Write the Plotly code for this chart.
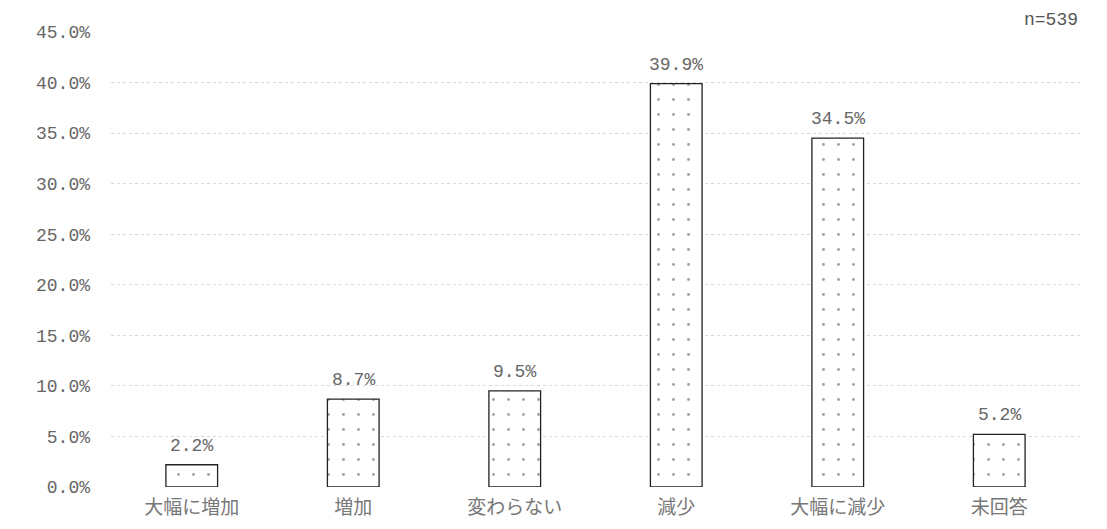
import plotly.graph_objects as go

categories = ["大幅に増加", "増加", "変わらない", "減少", "大幅に減少", "未回答"]
values = [2.2, 8.7, 9.5, 39.9, 34.5, 5.2]
y_ticks = [0, 5, 10, 15, 20, 25, 30, 35, 40, 45]
y_tick_labels = [f"{v:.1f}%" for v in y_ticks]
sample_note = "n=539"

num_font = "Liberation Mono, DejaVu Sans Mono, monospace"
cjk_font = "Noto Sans CJK JP, sans-serif"

fig = go.Figure(
    go.Bar(
        x=categories,
        y=values,
        width=0.32,
        marker=dict(
            color="white",
            line=dict(color="#222222", width=1.3),
            pattern=dict(shape=".", fgcolor="#444444", bgcolor="white", size=15, solidity=0.03),
        ),
        hoverinfo="x+y",
    )
)

value_labels = [
    dict(
        x=c,
        y=v,
        xref="x",
        yref="y",
        text=f"{v:.1f}%",
        showarrow=False,
        yanchor="bottom",
        yshift=7,
        font=dict(family=num_font, size=18, color="#666666"),
    )
    for c, v in zip(categories, values)
]

fig.update_layout(
    width=1107,
    height=529,
    margin=dict(l=103, r=35, t=24, b=50, autoexpand=False),
    paper_bgcolor="white",
    plot_bgcolor="white",
    showlegend=False,
    xaxis=dict(
        range=[-0.5, 5.5],
        showgrid=False,
        showline=False,
        ticks="",
        automargin=False,
        ticklabelstandoff=7,
        tickfont=dict(family=cjk_font, size=19, color="#777777"),
    ),
    yaxis=dict(
        range=[0, 45],
        tickvals=y_ticks,
        ticktext=y_tick_labels,
        tickfont=dict(family=num_font, size=18, color="#666666"),
        showgrid=True,
        gridcolor="#d8d8d8",
        griddash="dot",
        gridwidth=1,
        zeroline=False,
        showline=False,
        ticks="",
        automargin=False,
        ticklabelstandoff=20,
    ),
    annotations=value_labels + [
        dict(
            text=sample_note,
            xref="paper",
            yref="paper",
            x=1.0,
            y=1.0,
            xanchor="right",
            yanchor="bottom",
            showarrow=False,
            font=dict(family=num_font, size=18, color="#555555"),
        )
    ],
)

fig.write_html("out.html")
